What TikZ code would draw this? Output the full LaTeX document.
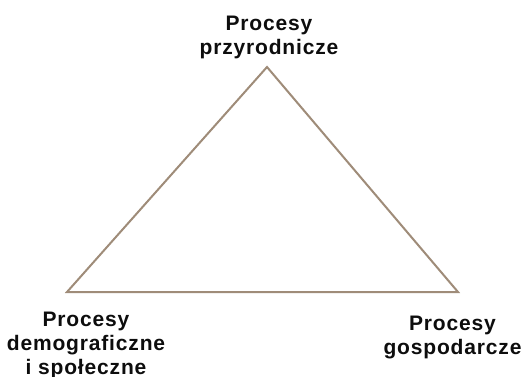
\documentclass[tikz,border=0pt]{standalone}
\usepackage{fontspec}
\setmainfont{Liberation Sans}
\begin{document}
\begin{tikzpicture}[x=1pt,y=-1pt,
  lbl/.style={font=\bfseries\fontsize{21}{24}\selectfont\addfontfeature{LetterSpace=4}, align=center, inner sep=0pt, text=black!95},
  edge/.style={draw=black!50!brown!60, line width=2pt, line join=miter}]
\useasboundingbox[fill=white] (0,0) rectangle (522,376);
\coordinate (T) at (267,67);
\coordinate (L) at (67,292);
\coordinate (R) at (458,292);
\draw[edge] (T) -- (L) -- (R) -- cycle;
\node[lbl] (top) at (269,37.5) {Procesy\\przyrodnicze};
\node[lbl] (bl) at (86,345) {Procesy\\demograficzne\\i społeczne};
\node[lbl] (br) at (452.5,337.5) {Procesy\\gospodarcze};
\end{tikzpicture}
\end{document}
